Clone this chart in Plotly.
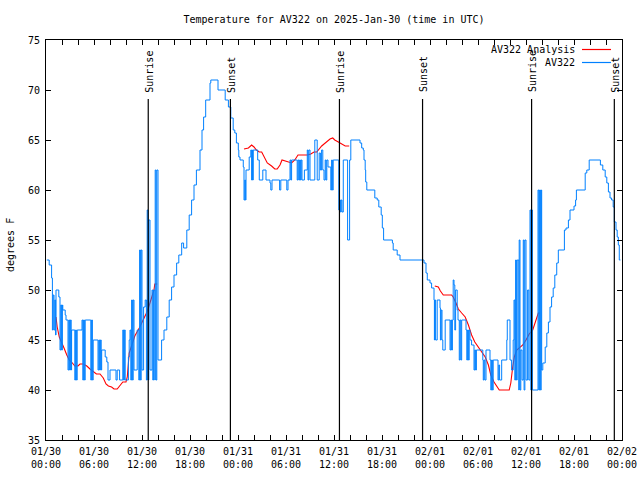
import pandas as pd
import plotly.graph_objects as go

START = pd.Timestamp("2025-01-30 00:00")

# Observations AV322: [hours since 2025-01-30 00:00 UTC, temperature F]
obs_readings = [
    [0.10, 53.0], [0.40, 52.5], [0.70, 51.2],
    [0.80, 46.0], [0.90, 49.5], [1.00, 46.0], [1.10, 49.0], [1.20, 45.5],
    [1.25, 50.0], [1.60, 49.3],
    [1.75, 44.0], [1.85, 48.5], [1.95, 44.0], [2.05, 48.5],
    [2.10, 48.0], [2.40, 47.5], [2.50, 47.0],
    [2.75, 42.0], [2.85, 47.0], [2.95, 42.0], [3.05, 47.0], [3.15, 42.0],
    [3.20, 46.0],
    [3.60, 41.0], [3.70, 46.0], [3.80, 41.0], [3.90, 46.0],
    [4.00, 46.0], [4.50, 47.0],
    [4.60, 41.0], [4.70, 47.0], [4.80, 41.0], [4.90, 47.0],
    [5.60, 41.0], [5.70, 47.0], [5.80, 41.0],
    [5.90, 45.0],
    [6.50, 42.0], [6.60, 45.0], [6.70, 42.0], [6.80, 45.0], [6.90, 42.0],
    [6.96, 44.0], [7.40, 43.3], [7.60, 42.8], [7.75, 41.0], [8.00, 42.0],
    [8.75, 41.0], [8.90, 42.0], [9.20, 41.0],
    [9.60, 46.0], [9.70, 41.0], [9.80, 46.0], [9.90, 41.0],
    [10.30, 43.3], [10.40, 45.0], [10.50, 46.0],
    [10.60, 41.0], [10.70, 49.0], [10.80, 41.0], [10.90, 49.0],
    [11.00, 42.0], [11.40, 46.0],
    [11.60, 41.0], [11.70, 54.0], [11.80, 41.0], [11.90, 54.0],
    [12.00, 42.0], [12.20, 48.3], [12.40, 49.0],
    [12.55, 41.0], [12.65, 58.0], [12.75, 41.0], [12.85, 57.0],
    [13.00, 42.0], [13.25, 50.0], [13.35, 41.0], [13.45, 50.0],
    [13.60, 41.0], [13.65, 62.0], [13.75, 41.0], [13.85, 62.0],
    [14.00, 43.0], [14.45, 45.0], [14.75, 46.0], [15.10, 47.3], [15.40, 49.0],
    [15.70, 50.3], [16.00, 51.5], [16.33, 52.7], [16.60, 53.5], [16.96, 54.7],
    [17.20, 54.2], [17.60, 56.0], [17.90, 57.5], [18.20, 59.0], [18.50, 60.5],
    [18.80, 62.0], [19.25, 64.0], [19.50, 66.0], [19.70, 67.3], [19.96, 69.0],
    [20.50, 70.7], [20.60, 71.0], [21.50, 70.0], [22.40, 69.0], [22.80, 68.3],
    [23.10, 67.2], [23.40, 66.0], [23.60, 65.7], [23.80, 64.7], [24.04, 64.0],
    [24.10, 63.3], [24.25, 63.0], [24.66, 62.3],
    [24.75, 59.0], [24.85, 61.0], [24.92, 59.0],
    [25.00, 62.0], [25.40, 63.3], [25.60, 64.0],
    [25.70, 61.0], [25.80, 64.0], [25.85, 61.0], [25.90, 64.0],
    [26.46, 63.0], [26.66, 61.0], [27.10, 62.0], [27.50, 61.0], [28.00, 60.7],
    [28.10, 60.0], [28.25, 61.0], [29.20, 60.0], [29.35, 61.0], [30.10, 60.0],
    [30.25, 61.0], [30.50, 63.0], [30.60, 61.0], [30.70, 63.0],
    [31.40, 61.0], [31.50, 63.0], [31.60, 61.0], [31.70, 63.0], [31.80, 61.0],
    [31.90, 63.0], [32.00, 61.0], [32.30, 62.0],
    [32.66, 64.0], [32.75, 61.0], [32.85, 64.0],
    [33.00, 61.0], [33.60, 65.0], [33.90, 61.0], [34.15, 63.7], [34.30, 62.0],
    [34.45, 64.0], [34.60, 62.0], [34.75, 61.0],
    [34.90, 63.0], [35.00, 61.0], [35.10, 63.0], [35.25, 62.3],
    [35.60, 60.0], [35.70, 63.0], [35.80, 60.0], [35.90, 63.0],
    [36.60, 58.0], [36.70, 59.0], [36.80, 57.8], [36.90, 59.0], [37.00, 57.8],
    [37.16, 63.0], [37.70, 55.0], [37.95, 63.0], [38.10, 65.0],
    [39.25, 64.7], [39.46, 64.2], [39.66, 64.0], [39.75, 63.0], [39.90, 62.0],
    [39.96, 60.8], [40.10, 60.0], [41.10, 59.2], [41.40, 59.0], [41.60, 58.3],
    [41.90, 57.5], [42.04, 56.2], [42.20, 55.0], [43.30, 54.7], [43.40, 54.0],
    [43.90, 53.5], [44.25, 53.0], [47.25, 52.7], [47.50, 51.7], [47.66, 51.0],
    [48.00, 50.7], [48.20, 50.2], [48.50, 49.0],
    [48.55, 45.0], [48.60, 49.0], [48.70, 45.0], [48.90, 49.0],
    [49.25, 48.2], [49.30, 45.0], [49.40, 48.0], [49.50, 45.0],
    [49.60, 44.0], [49.90, 47.0],
    [50.50, 44.0], [50.60, 47.0], [50.70, 44.0], [50.80, 47.0],
    [50.90, 51.0], [51.00, 50.5], [51.10, 46.0], [51.20, 50.0],
    [51.40, 48.0], [51.50, 47.0],
    [51.66, 43.0], [51.76, 47.0], [51.86, 43.0], [51.96, 47.0],
    [52.50, 46.0], [52.60, 43.0], [52.70, 46.0], [52.80, 43.0], [52.90, 46.0],
    [53.00, 45.0], [53.20, 44.5],
    [53.50, 42.0], [53.60, 44.0], [53.70, 42.0], [53.80, 44.0],
    [54.60, 43.0], [54.66, 41.0], [54.76, 43.0], [54.86, 41.0],
    [55.00, 44.0], [55.50, 43.0],
    [55.60, 40.0], [55.70, 43.0], [55.80, 40.0], [55.90, 43.0],
    [56.50, 41.0], [56.60, 42.5], [56.70, 41.0],
    [56.96, 43.0], [57.60, 45.0], [57.66, 47.0], [58.00, 43.0], [58.20, 42.0],
    [58.40, 45.0], [58.50, 49.0],
    [58.60, 41.0], [58.70, 53.0], [58.80, 41.0], [58.90, 53.0],
    [59.10, 40.0], [59.15, 55.0], [59.25, 40.0], [59.35, 44.0], [59.50, 41.0],
    [59.66, 55.0], [59.76, 40.0], [59.86, 55.0],
    [60.00, 41.0], [60.20, 50.0], [60.35, 41.0],
    [60.50, 58.0], [60.60, 40.0], [60.70, 58.0], [60.80, 40.0],
    [61.50, 60.0], [61.60, 40.0], [61.70, 60.0], [61.80, 40.0], [61.90, 60.0],
    [61.96, 42.0], [62.10, 42.7], [62.40, 44.3], [62.60, 45.7], [62.80, 46.8],
    [63.00, 48.3], [63.20, 49.3], [63.40, 50.2], [63.60, 51.5], [63.84, 52.7],
    [64.04, 54.0], [64.80, 56.0], [65.00, 56.2], [65.30, 57.0], [65.50, 58.0],
    [66.00, 58.4], [66.20, 59.0], [66.30, 60.0], [67.40, 61.7], [67.60, 62.0],
    [67.90, 63.0], [69.30, 62.5], [69.60, 62.0], [69.90, 61.3], [70.10, 60.7],
    [70.30, 59.8], [70.50, 59.2], [70.70, 59.0], [70.90, 58.3], [71.04, 56.8],
    [71.25, 56.0], [71.40, 55.3], [71.54, 54.5], [71.66, 53.0], [71.80, 53.0],
]
obs_hours = [p[0] for p in obs_readings]
obs_temps = [p[1] for p in obs_readings]

# Analysis AV322 (three separate segments)
ana_hours_1 = [1.25, 1.40, 1.66, 1.96, 2.25, 2.60, 2.90, 3.30, 3.60, 4.00, 4.25, 4.66,
               5.10, 5.50, 5.90, 6.30, 6.75, 7.16, 7.50, 7.80, 8.20, 8.50, 8.90, 9.25,
               9.60, 10.00, 10.16, 10.40, 10.70, 11.10, 11.66, 12.10, 12.50, 12.80,
               13.20, 13.50, 13.60, 13.90]
ana_temps_1 = [47.3, 46.3, 45.3, 44.8, 44.2, 43.5, 43.0, 42.7, 42.4, 42.4, 42.6, 42.6,
               42.4, 42.1, 41.8, 41.6, 41.6, 41.2, 40.6, 40.4, 40.3, 40.1, 40.1, 40.4,
               40.8, 40.8, 41.3, 43.7, 44.5, 45.4, 46.2, 46.9, 47.6, 48.2,
               49.2, 50.0, 50.6, 50.6]
ana_hours_2 = [24.75, 25.30, 25.70, 26.00, 26.30, 26.66, 26.96, 27.40, 27.66, 28.20,
               28.60, 28.90, 29.25, 29.50, 29.90, 30.30, 30.70, 31.10, 31.50, 32.66,
               33.10, 33.50, 33.84, 34.46, 35.00, 35.50, 35.84, 36.10, 36.54, 36.96,
               37.40, 37.90]
ana_temps_2 = [64.1, 64.2, 64.5, 64.3, 64.0, 63.8, 63.8, 63.0, 62.7, 62.4,
               62.1, 62.1, 62.5, 63.0, 62.9, 62.8, 62.7, 63.0, 63.5, 63.5,
               63.6, 63.8, 63.8, 64.4, 64.8, 65.1, 65.2, 65.0, 64.8, 64.6,
               64.4, 64.4]
ana_hours_3 = [48.60, 49.04, 49.30, 49.66, 50.70, 50.90, 51.25, 51.54, 51.96, 52.40,
               52.80, 53.20, 53.60, 54.04, 54.46, 54.90, 55.30, 55.60, 56.00, 56.34,
               56.66, 57.90, 58.10, 58.34, 58.54, 58.84, 59.25, 59.60, 60.00, 60.40,
               60.84, 61.25, 61.54, 61.75]
ana_temps_3 = [50.4, 50.3, 49.9, 49.5, 49.5, 49.3, 48.7, 48.1, 47.7, 47.3,
               46.5, 45.5, 44.8, 44.3, 43.8, 43.3, 42.5, 41.5, 40.8, 40.4,
               40.0, 40.0, 40.7, 42.3, 43.3, 44.0, 44.3, 44.5, 45.0, 45.6,
               46.0, 47.0, 47.7, 47.7]

sun_event_hours = [12.78, 23.05, 36.68, 47.07, 60.70, 71.04]
sun_event_labels = ["Sunrise", "Sunset", "Sunrise", "Sunset", "Sunrise", "Sunset"]

x_tick_hours = list(range(0, 73, 2))
x_major_labels = ["01/30<br>00:00", "01/30<br>06:00", "01/30<br>12:00", "01/30<br>18:00",
                  "01/31<br>00:00", "01/31<br>06:00", "01/31<br>12:00", "01/31<br>18:00",
                  "02/01<br>00:00", "02/01<br>06:00", "02/01<br>12:00", "02/01<br>18:00",
                  "02/02<br>00:00"]

series_names = ["AV322 Analysis", "AV322"]
series_colors = ["#ff0000", "#0080ff"]

FONT = "DejaVu Sans Mono"


def to_time(hours):
    return [START + pd.Timedelta(hours=h) for h in hours]


# full-window figure (page margin removed in post_script below)
W, H = 640, 480
L, R, T, B = 46, 18, 40, 40
pw, ph = W - L - R, H - T - B


def px_x(xwin):
    return (xwin - L) / pw


def px_y(ywin):
    return (H - B - ywin) / ph


fig = go.Figure()
nan_sep = [None]
ana_x = to_time(ana_hours_1) + nan_sep + to_time(ana_hours_2) + nan_sep + to_time(ana_hours_3)
ana_y = ana_temps_1 + nan_sep + ana_temps_2 + nan_sep + ana_temps_3
fig.add_trace(go.Scatter(x=ana_x, y=ana_y, mode="lines", name=series_names[0],
                         line=dict(color=series_colors[0], width=1.1), connectgaps=False))
fig.add_trace(go.Scatter(x=to_time(obs_hours), y=obs_temps, mode="lines", name=series_names[1],
                         line=dict(color=series_colors[1], width=1.0, shape="hv")))

# sunrise / sunset lines and labels
for h, lab in zip(sun_event_hours, sun_event_labels):
    t = START + pd.Timedelta(hours=h)
    fig.add_shape(type="line", xref="x", yref="y", x0=t, x1=t, y0=35, y1=69.1,
                  line=dict(color="black", width=1.2))
    fig.add_annotation(x=t, y=69.55, xref="x", yref="y", text=lab, textangle=-90,
                       showarrow=False, xanchor="center", yanchor="bottom",
                       font=dict(family=FONT, size=10, color="black"), xshift=1)

# manual legend (top right, text then line sample)
for i, (nm, col) in enumerate(zip(series_names, series_colors)):
    yp = px_y(49.5 + 13 * i)
    fig.add_annotation(x=px_x(577), y=yp, xref="paper", yref="paper", text=nm,
                       showarrow=False, xanchor="right", yanchor="middle",
                       font=dict(family=FONT, size=10, color="black"))
    fig.add_shape(type="line", xref="paper", yref="paper", x0=px_x(582), x1=px_x(611),
                  y0=yp, y1=yp, line=dict(color=col, width=1.2))

# y-axis title
fig.add_annotation(x=px_x(11), y=px_y(245), xref="paper", yref="paper",
                   text="degrees F", textangle=-90, showarrow=False,
                   xanchor="center", yanchor="middle", borderpad=0,
                   font=dict(family=FONT, size=10, color="black"))

tickvals = to_time(x_tick_hours)
ticktext = [x_major_labels[h // 6] if h % 6 == 0 else "" for h in x_tick_hours]

fig.update_layout(
    width=W, height=H,
    margin=dict(l=L, r=R, t=T, b=B, pad=0, autoexpand=False),
    paper_bgcolor="white", plot_bgcolor="white",
    showlegend=False,
    font=dict(family=FONT, size=10, color="black"),
    title=dict(text="Temperature for AV322 on 2025-Jan-30 (time in UTC)",
               xref="paper", x=0.5, xanchor="center",
               y=1 - 19 / H, yanchor="middle",
               font=dict(family=FONT, size=10, color="black")),
    xaxis=dict(type="date", range=[START, START + pd.Timedelta(hours=72)],
               tickmode="array", tickvals=tickvals, ticktext=ticktext,
               ticks="inside", ticklen=5, tickcolor="black", tickwidth=1,
               showline=True, linecolor="black", linewidth=1, mirror="ticks",
               showgrid=False, zeroline=False, automargin=False,
               ticklabelstandoff=2,
               tickfont=dict(family=FONT, size=10, color="black")),
    yaxis=dict(range=[35, 75], tickmode="linear", tick0=35, dtick=5,
               ticks="inside", ticklen=5, tickcolor="black", tickwidth=1,
               showline=True, linecolor="black", linewidth=1, mirror="ticks",
               showgrid=False, zeroline=False, automargin=False,
               ticklabelstandoff=3,
               tickfont=dict(family=FONT, size=10, color="black")),
)

fig.write_html(
    "out.html",
    config={"displayModeBar": False},
    post_script="document.body.style.margin='0';document.body.style.overflow='hidden';",
)
